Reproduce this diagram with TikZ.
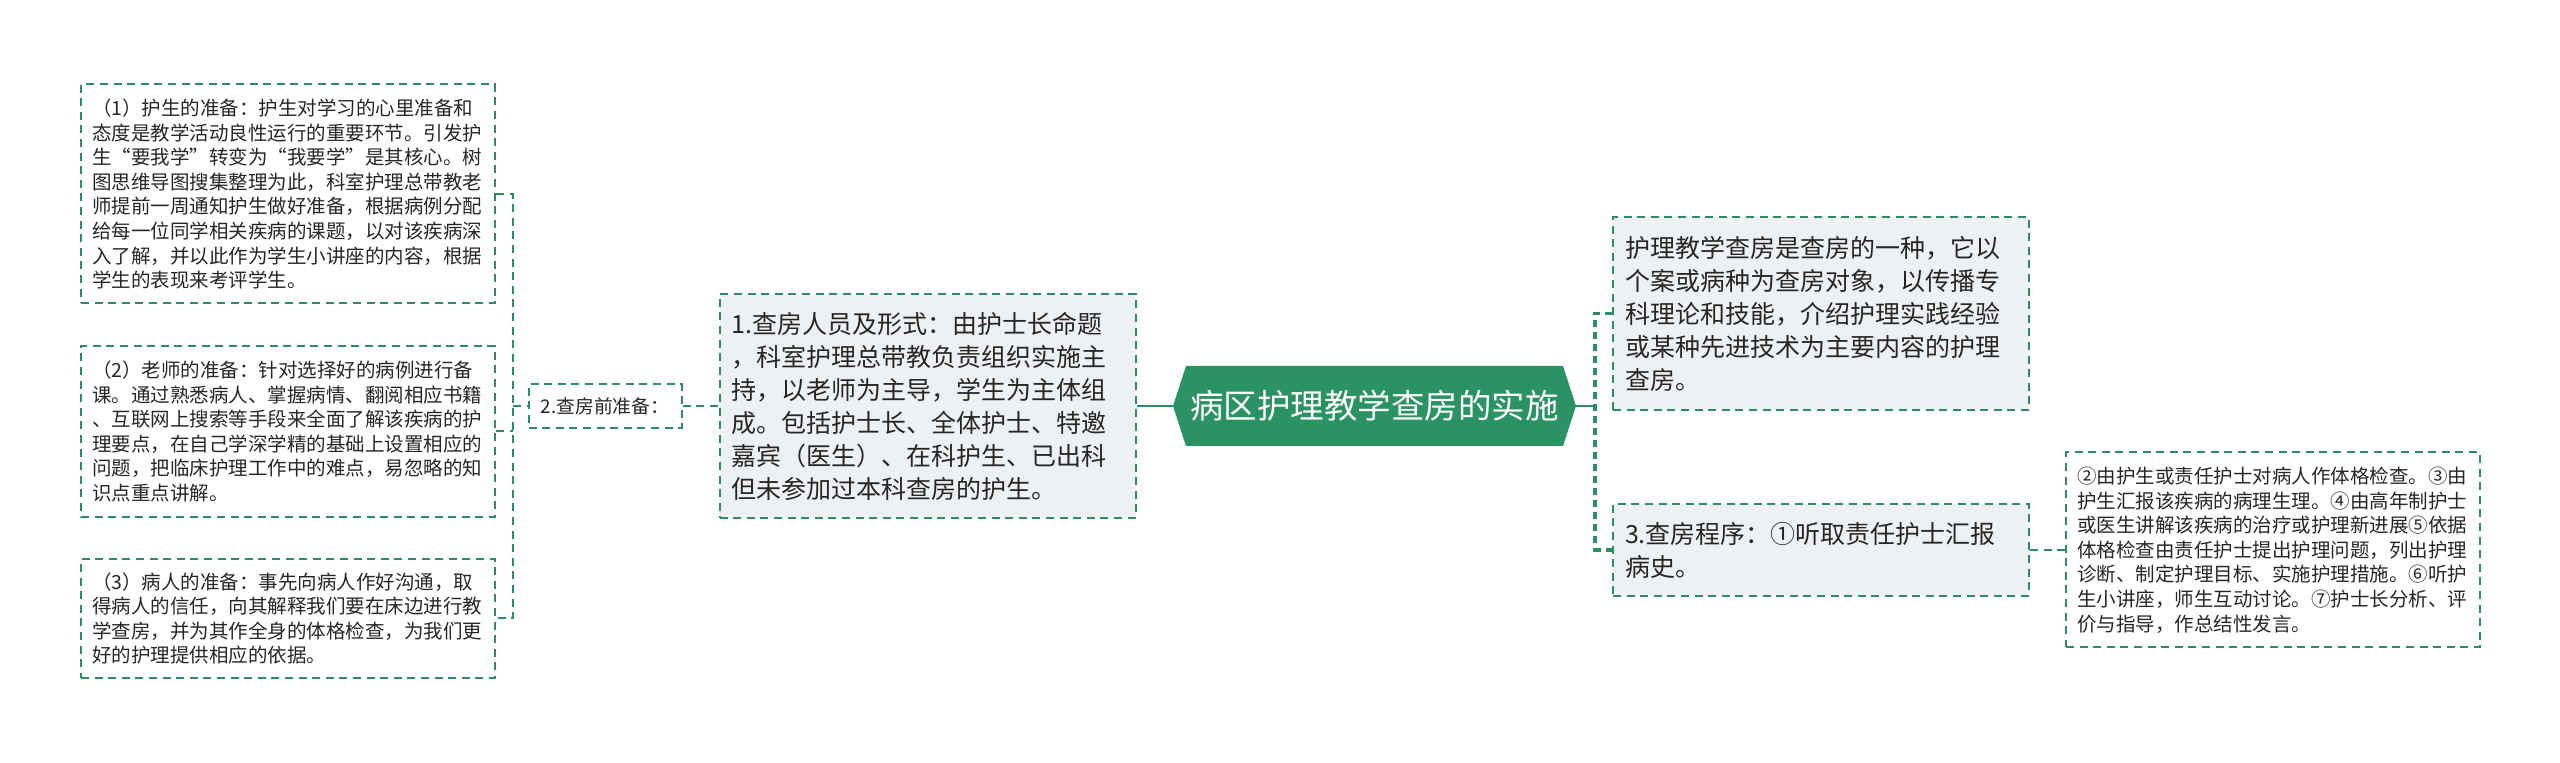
\documentclass[tikz,border=0pt]{standalone}
\usepackage{fontspec}
\setmainfont{Noto Sans CJK SC}
\usepackage{tikz}
\usetikzlibrary{positioning,shapes.symbols}
\definecolor{lineg}{RGB}{45,140,98}
\definecolor{rootg}{RGB}{43,146,99}
\definecolor{boxfill}{RGB}{238,241,244}
\definecolor{txt}{RGB}{38,38,38}

\begin{document}
\begin{tikzpicture}[x=0.5pt,y=-0.5pt,
	leaf/.style={draw=lineg,line width=1pt,dash pattern=on 4pt off 2.8pt,fill=white,text=txt,align=left,
		inner xsep=5.5pt,inner ysep=0pt,text width=196pt,font=\fontsize{9.75pt}{12.3pt}\selectfont},
	topic/.style={draw=lineg,line width=1pt,dash pattern=on 4pt off 2.8pt,fill=boxfill,text=txt,align=left,
		inner xsep=6pt,inner ysep=0pt,text width=196pt,font=\fontsize{12.5pt}{16.5pt}\selectfont},
	tag/.style={draw=lineg,line width=1pt,dash pattern=on 4pt off 2.8pt,fill=white,text=txt,
		inner sep=0pt,minimum width=76.5pt,minimum height=22pt,font=\fontsize{9.4pt}{11pt}\selectfont},
	root/.style={shape=signal,signal to=east and west,signal pointer angle=144,fill=rootg,text=white,
		inner sep=0pt,minimum width=201.5pt,minimum height=40pt,font=\fontsize{16.75pt}{20pt}\selectfont},
	dlink/.style={draw=lineg,line width=1pt,dash pattern=on 4pt off 2.8pt},
	tlink/.style={draw=lineg,line width=1.6pt,dash pattern=on 3.5pt off 2.5pt},
	slink/.style={draw=lineg,line width=1.35pt}]

	\fill[white] (0,0) rectangle (2560,763);
	\useasboundingbox (0,0) rectangle (2560,763);

	\node[root] (root) at (1374.5,406) {病区护理教学查房的实施};

	\node[topic,minimum height=112pt,left=18pt of root] (who) {1.查房人员及形式：由护士长命题\\，科室护理总带教负责组织实施主\\持，以老师为主导，学生为主体组\\成。包括护士长、全体护士、特邀\\嘉宾（医生）、在科护生、已出科\\但未参加过本科查房的护生。};
	\node[tag,left=18pt of who] (prep) {2.查房前准备：};

	\node[leaf,minimum height=109.5pt,anchor=east] (p1) at (496,194) {（1）护生的准备：护生对学习的心里准备和\\态度是教学活动良性运行的重要环节。引发护\\生“要我学”转变为“我要学”是其核心。树\\图思维导图搜集整理为此，科室护理总带教老\\师提前一周通知护生做好准备，根据病例分配\\给每一位同学相关疾病的课题，以对该疾病深\\入了解，并以此作为学生小讲座的内容，根据\\学生的表现来考评学生。};
	\node[leaf,minimum height=85.5pt,anchor=east] (p2) at (496,431.5) {（2）老师的准备：针对选择好的病例进行备\\课。通过熟悉病人、掌握病情、翻阅相应书籍\\、互联网上搜索等手段来全面了解该疾病的护\\理要点，在自己学深学精的基础上设置相应的\\问题，把临床护理工作中的难点，易忽略的知\\识点重点讲解。};
	\node[leaf,minimum height=59.5pt,anchor=east] (p3) at (496,618.5) {（3）病人的准备：事先向病人作好沟通，取\\得病人的信任，向其解释我们要在床边进行教\\学查房，并为其作全身的体格检查，为我们更\\好的护理提供相应的依据。};

	\node[topic,minimum height=96.5pt,anchor=west] (def) at (1612,313.5) {护理教学查房是查房的一种，它以\\个案或病种为查房对象，以传播专\\科理论和技能，介绍护理实践经验\\或某种先进技术为主要内容的护理\\查房。};
	\node[topic,minimum height=46pt,anchor=west] (proc) at (1612,550) {3.查房程序：①听取责任护士汇报\\病史。};
	\node[leaf,minimum height=97.5pt,right=17.5pt of proc] (steps) {②由护生或责任护士对病人作体格检查。③由\\护生汇报该疾病的病理生理。④由高年制护士\\或医生讲解该疾病的治疗或护理新进展⑤依据\\体格检查由责任护士提出护理问题，列出护理\\诊断、制定护理目标、实施护理措施。⑥听护\\生小讲座，师生互动讨论。⑦护士长分析、评\\价与指导，作总结性发言。};

	\coordinate (lbr) at (513,406);
	\coordinate (rbr) at (1595,406);

	\draw[dlink] (p1.east) -| (lbr) |- (p3.east);
	\draw[dlink] (p2.east) -- (p2.east -| lbr);
	\draw[dlink] (lbr) -- (prep.west);
	\draw[dlink] (prep.east) -- (who.west);
	\draw[slink] (who.east) -- (root.west);
	\draw[slink] (root.east) -- (rbr);
	\draw[tlink] (def.west) -| (rbr) |- (proc.west);
	\draw[dlink] (proc.east) -- (steps.west);
\end{tikzpicture}
\end{document}
